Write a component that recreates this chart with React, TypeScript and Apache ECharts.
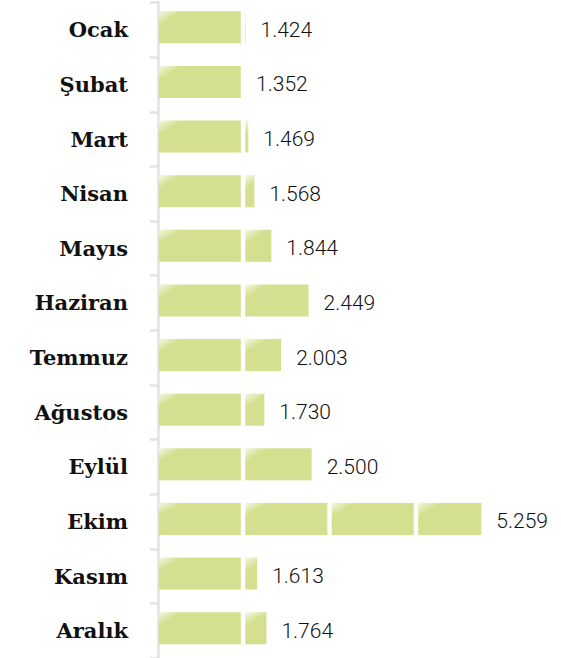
import React, { useEffect, useRef } from "react";
import * as echarts from "echarts";

const months = ["Ocak", "Şubat", "Mart", "Nisan", "Mayıs", "Haziran", "Temmuz", "Ağustos", "Eylül", "Ekim", "Kasım", "Aralık"];
const values = [1.424, 1.352, 1.469, 1.568, 1.844, 2.449, 2.003, 1.73, 2.5, 5.259, 1.613, 1.764];

export default function App() {
  const ref = useRef<HTMLDivElement>(null);
  useEffect(() => {
    if (!ref.current) return;
    const chart = echarts.init(ref.current, null, { renderer: "svg" });
    const fill = new echarts.graphic.LinearGradient(0, 0, 0.2, 0.13, [
      { offset: 0, color: "#fbfcf3" },
      { offset: 0.2, color: "#eef3d3" },
      { offset: 1, color: "#d4e08f" },
    ]);
    chart.setOption({
      animation: false,
      backgroundColor: "#ffffff",
      grid: { left: 158, top: 2.5, width: 399.6, height: 661 },
      xAxis: { type: "value", min: 0, max: 6.5, show: false },
      yAxis: {
        type: "category",
        data: months,
        inverse: true,
        offset: 3,
        axisLine: { show: true, lineStyle: { color: "#e2e2e2", width: 2.5 } },
        axisTick: { show: true, length: 8, lineStyle: { color: "#e2e2e2", width: 2.5 } },
        axisLabel: {
          margin: 27,
          fontFamily: "DejaVu Serif",
          fontWeight: "bold",
          fontSize: 21,
          color: "#111111",
        },
      },
      series: [
        {
          type: "pictorialBar",
          data: values,
          symbol: "rect",
          symbolSize: [82, 32],
          symbolOffset: [0, -2.5],
          symbolRepeat: true,
          symbolClip: true,
          symbolMargin: 2.5,
          symbolBoundingData: 5.579,
          symbolPosition: "start",
          itemStyle: { color: fill, borderColor: "#e4ecb8", borderWidth: 1 },
          label: { show: false },
          z: 2,
        },
        {
          type: "bar",
          data: values,
          barWidth: 1,
          itemStyle: { color: "rgba(0,0,0,0)" },
          label: {
            show: true,
            position: "right",
            distance: 15,
            formatter: (p: any) => Number(p.value).toFixed(3),
            fontFamily: "Roboto",
            fontWeight: 300,
            fontSize: 21,
            color: "#111111",
          },
          z: 3,
        },
      ],
    });
    return () => chart.dispose();
  }, []);
  return <div ref={ref} style={{ position: "fixed", left: 0, top: 0, width: 561, height: 658 }} />;
}
